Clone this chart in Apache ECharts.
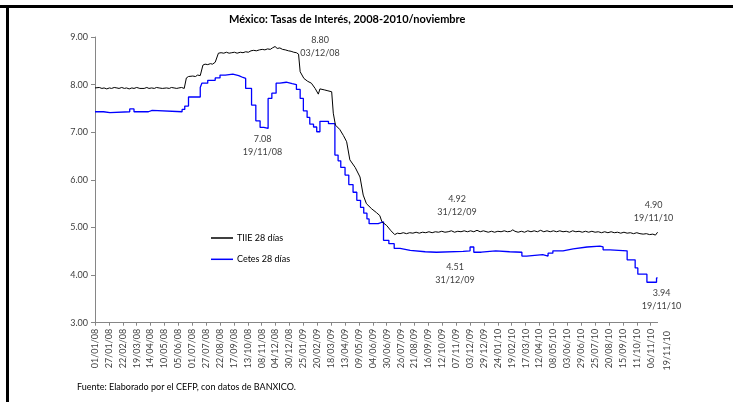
<!DOCTYPE html>
<html>
<head>
<meta charset="utf-8">
<script src="https://cdn.jsdelivr.net/npm/echarts@6/dist/echarts.min.js"></script>
<style>
  html, body { margin: 0; padding: 0; background: #fff; }
  #chart { width: 733px; height: 402px; }
</style>
</head>
<body>
<div id="chart"></div>
<script>
// tick labels on the date axis (every 26 days)
var tickLabels = ["01/01/08", "27/01/08", "22/02/08", "19/03/08", "14/04/08", "10/05/08", "05/06/08",
  "01/07/08", "27/07/08", "22/08/08", "17/09/08", "13/10/08", "08/11/08", "04/12/08", "30/12/08",
  "25/01/09", "20/02/09", "18/03/09", "13/04/09", "09/05/09", "04/06/09", "30/06/09", "26/07/09",
  "21/08/09", "16/09/09", "12/10/09", "07/11/09", "03/12/09", "29/12/09", "24/01/10", "19/02/10",
  "17/03/10", "12/04/10", "08/05/10", "03/06/10", "29/06/10", "25/07/10", "20/08/10", "15/09/10",
  "11/10/10", "06/11/10"];
var lastLabel = "19/11/10";

// TIIE 28 dias  [date, rate]
var tiieData = [
  ["01/01/08", 7.93], ["04/01/08", 7.92], ["09/01/08", 7.94], ["14/01/08", 7.92], ["18/01/08", 7.93],
  ["23/01/08", 7.91], ["28/01/08", 7.93], ["01/02/08", 7.92], ["06/02/08", 7.94], ["11/02/08", 7.93],
  ["15/02/08", 7.92], ["20/02/08", 7.94], ["25/02/08", 7.92], ["29/02/08", 7.93], ["05/03/08", 7.91],
  ["10/03/08", 7.93], ["14/03/08", 7.92], ["19/03/08", 7.94], ["25/03/08", 7.92], ["28/03/08", 7.93],
  ["02/04/08", 7.92], ["07/04/08", 7.94], ["11/04/08", 7.92], ["16/04/08", 7.93], ["21/04/08", 7.92],
  ["25/04/08", 7.94], ["30/04/08", 7.93], ["06/05/08", 7.92], ["09/05/08", 7.94], ["14/05/08", 7.93],
  ["19/05/08", 7.92], ["23/05/08", 7.94], ["28/05/08", 7.93], ["02/06/08", 7.92], ["06/06/08", 7.93],
  ["11/06/08", 7.94], ["16/06/08", 7.92], ["19/06/08", 7.93],
  ["20/06/08", 8.14], ["24/06/08", 8.17], ["27/06/08", 8.16], ["02/07/08", 8.18], ["07/07/08", 8.17],
  ["11/07/08", 8.20], ["16/07/08", 8.19], ["18/07/08", 8.22], ["21/07/08", 8.41], ["25/07/08", 8.43],
  ["30/07/08", 8.42], ["04/08/08", 8.44], ["08/08/08", 8.43], ["13/08/08", 8.47], ["15/08/08", 8.48],
  ["19/08/08", 8.66], ["24/08/08", 8.67], ["29/08/08", 8.66], ["03/09/08", 8.68], ["08/09/08", 8.66],
  ["13/09/08", 8.67], ["18/09/08", 8.68], ["23/09/08", 8.66], ["29/09/08", 8.68], ["04/10/08", 8.67],
  ["09/10/08", 8.69], ["14/10/08", 8.68], ["19/10/08", 8.71], ["24/10/08", 8.72], ["29/10/08", 8.71],
  ["04/11/08", 8.73], ["09/11/08", 8.74], ["14/11/08", 8.73], ["19/11/08", 8.75], ["24/11/08", 8.74],
  ["28/11/08", 8.77], ["03/12/08", 8.80], ["07/12/08", 8.76], ["12/12/08", 8.77], ["17/12/08", 8.74],
  ["22/12/08", 8.73], ["28/12/08", 8.71], ["02/01/09", 8.70], ["07/01/09", 8.68], ["12/01/09", 8.67],
  ["16/01/09", 8.64], ["19/01/09", 8.27], ["26/01/09", 8.13], ["02/02/09", 8.07], ["09/02/09", 8.03],
  ["16/02/09", 7.92], ["22/02/09", 7.80], ["25/02/09", 7.91], ["05/03/09", 7.89], ["12/03/09", 7.87],
  ["19/03/09", 7.85], ["22/03/09", 7.40], ["26/03/09", 7.15], ["03/04/09", 7.06], ["10/04/09", 6.93],
  ["16/04/09", 6.80], ["22/04/09", 6.42], ["02/05/09", 6.26], ["11/05/09", 6.06], ["17/05/09", 5.68],
  ["23/05/09", 5.50], ["02/06/09", 5.39], ["11/06/09", 5.31], ["17/06/09", 5.25], ["21/06/09", 5.12],
  ["30/06/09", 5.04], ["08/07/09", 4.93], ["15/07/09", 4.85], ["20/07/09", 4.88], ["25/07/09", 4.87],
  ["31/07/09", 4.89], ["06/08/09", 4.87], ["12/08/09", 4.89], ["18/08/09", 4.88], ["24/08/09", 4.90],
  ["30/08/09", 4.88], ["05/09/09", 4.90], ["11/09/09", 4.89], ["17/09/09", 4.91], ["23/09/09", 4.89],
  ["29/09/09", 4.91], ["05/10/09", 4.90], ["11/10/09", 4.92], ["17/10/09", 4.90], ["23/10/09", 4.91],
  ["29/10/09", 4.93], ["04/11/09", 4.90], ["10/11/09", 4.92], ["16/11/09", 4.91], ["22/11/09", 4.93],
  ["28/11/09", 4.91], ["04/12/09", 4.93], ["10/12/09", 4.91], ["16/12/09", 4.94], ["22/12/09", 4.91],
  ["28/12/09", 4.93], ["31/12/09", 4.92], ["06/01/10", 4.90], ["12/01/10", 4.92], ["18/01/10", 4.90],
  ["24/01/10", 4.92], ["30/01/10", 4.91], ["05/02/10", 4.93], ["11/02/10", 4.91], ["17/02/10", 4.92],
  ["21/02/10", 4.95], ["25/02/10", 4.92], ["03/03/10", 4.90], ["09/03/10", 4.92], ["15/03/10", 4.90],
  ["21/03/10", 4.93], ["27/03/10", 4.91], ["02/04/10", 4.93], ["08/04/10", 4.91], ["14/04/10", 4.94],
  ["20/04/10", 4.91], ["26/04/10", 4.93], ["02/05/10", 4.91], ["08/05/10", 4.93], ["14/05/10", 4.91],
  ["20/05/10", 4.93], ["26/05/10", 4.91], ["01/06/10", 4.92], ["07/06/10", 4.90], ["13/06/10", 4.93],
  ["19/06/10", 4.91], ["25/06/10", 4.92], ["01/07/10", 4.90], ["07/07/10", 4.92], ["13/07/10", 4.90],
  ["19/07/10", 4.92], ["25/07/10", 4.90], ["31/07/10", 4.91], ["06/08/10", 4.89], ["12/08/10", 4.91],
  ["18/08/10", 4.89], ["24/08/10", 4.91], ["30/08/10", 4.89], ["05/09/10", 4.90], ["11/09/10", 4.88],
  ["17/09/10", 4.90], ["23/09/10", 4.88], ["29/09/10", 4.89], ["05/10/10", 4.87], ["11/10/10", 4.89],
  ["17/10/10", 4.87], ["23/10/10", 4.86], ["29/10/10", 4.87], ["04/11/10", 4.85], ["10/11/10", 4.86],
  ["15/11/10", 4.84], ["17/11/10", 4.86], ["19/11/10", 4.90]
];

// Cetes 28 dias (weekly auction, drawn as steps)
var cetesDates = ["01/01/08", "17/01/08", "29/01/08", "06/03/08", "14/03/08", "10/04/08", "17/04/08",
  "12/06/08", "17/06/08", "24/06/08", "16/07/08", "19/07/08", "30/07/08", "13/08/08", "22/08/08",
  "01/09/08", "15/09/08", "26/09/08", "04/10/08", "09/10/08", "20/10/08", "28/10/08", "05/11/08",
  "12/11/08", "20/11/08", "27/11/08", "05/12/08", "12/12/08", "24/12/08", "04/01/09", "12/01/09",
  "19/01/09", "25/01/09", "01/02/09", "06/02/09", "13/02/09", "19/02/09", "25/02/09", "13/03/09",
  "25/03/09", "31/03/09", "05/04/09", "13/04/09", "20/04/09", "28/04/09", "05/05/09", "12/05/09",
  "18/05/09", "24/05/09", "28/05/09", "14/06/09", "24/06/09", "04/07/09", "14/07/09", "25/07/09",
  "13/08/09", "10/09/09", "01/10/09", "20/11/09", "03/12/09", "10/12/09", "24/12/09", "20/01/10",
  "15/02/10", "10/03/10", "19/03/10", "18/04/10", "28/04/10", "07/05/10", "26/05/10", "14/06/10",
  "10/07/10", "03/08/10", "09/08/10", "22/08/10", "23/09/10", "08/10/10", "13/10/10", "30/10/10",
  "17/11/10", "19/11/10"];
var cetesValues = [7.43, 7.41, 7.43, 7.49, 7.43, 7.46, 7.43,
  7.48, 7.55, 7.74, 7.94, 8.03, 8.09, 8.14, 8.20,
  8.22, 8.19, 8.15, 8.13, 7.92, 7.57, 7.24, 7.10,
  7.08, 7.71, 7.82, 8.03, 8.05, 8.02, 8.00, 7.90,
  7.71, 7.45, 7.31, 7.17, 7.11, 7.01, 7.23, 7.18,
  6.52, 6.40, 6.26, 6.10, 5.90, 5.74, 5.57, 5.42,
  5.30, 5.18, 5.08, 5.12, 4.73, 4.66, 4.56, 4.52,
  4.49, 4.48, 4.50, 4.51, 4.59, 4.48, 4.51, 4.49,
  4.48, 4.40, 4.43, 4.40, 4.46, 4.51, 4.55, 4.59,
  4.61, 4.59, 4.53, 4.51, 4.32, 4.15, 4.02, 3.85,
  3.94, 3.94];

// annotated values [date, value]
var tiieNotes = [["03/12/08", 8.80], ["31/12/09", 4.92], ["19/11/10", 4.90]];
var cetesNotes = [["19/11/08", 7.08], ["31/12/09", 4.51], ["19/11/10", 3.94]];

var FONT = "Lato";

function toTime(s) {
  var p = s.split("/");
  return Date.UTC(2000 + Number(p[2]), Number(p[1]) - 1, Number(p[0]));
}

var tickTimes = tickLabels.map(toTime);
var labelByTime = {};
tickLabels.forEach(function (l) {
  labelByTime[toTime(l)] = l;
});

var noteOffsets = {
  tiie: [[45, 0], [-28, -26], [-4, -21]],
  cetes: [[-5, 17], [-30, 23], [4, 22]],
};

function notePoints(notes, offsets) {
  return notes.map(function (n, i) {
    return {
      coord: [toTime(n[0]), n[1]],
      value: n[1].toFixed(2) + "\n" + n[0],
      label: { offset: offsets[i] },
    };
  });
}

var markStyle = {
  symbol: "circle",
  symbolSize: 1,
  silent: true,
  itemStyle: { color: "rgba(0,0,0,0)" },
  label: {
    show: true,
    position: "inside",
    fontFamily: FONT,
    fontSize: 9,
    lineHeight: 13,
    color: "#404040",
    align: "center",
    formatter: "{c}",
  },
};

var chart = echarts.init(document.getElementById("chart"));

var option = {
  animation: false,
  backgroundColor: "#fff",
  title: {
    text: "México: Tasas de Interés, 2008-2010/noviembre",
    left: 229,
    top: 14,
    padding: 0,
    textStyle: {
      fontFamily: FONT,
      fontSize: 11,
      fontWeight: "bold",
      color: "#000",
    },
  },
  legend: {
    orient: "vertical",
    left: 206,
    top: 227,
    itemWidth: 22,
    itemHeight: 1.5,
    itemGap: 9.3,
    icon: "rect",
    textStyle: {
      fontFamily: FONT,
      fontSize: 9,
      lineHeight: 12,
      color: "#000",
      padding: [0, 0, 0, -1],
    },
    data: ["TIIE 28 días", "Cetes 28 días"],
  },
  grid: {
    left: 95,
    right: 75.4,
    top: 37,
    bottom: 79.3,
  },
  xAxis: {
    type: "value",
    min: toTime("01/01/08"),
    max: toTime(lastLabel),
    interval: 26 * 86400000,
    splitLine: { show: false },
    axisLine: { show: true, onZero: false, lineStyle: { color: "#868686", width: 1 } },
    axisTick: {
      show: true,
      length: 3,
      customValues: tickTimes,
      lineStyle: { color: "#868686" },
    },
    axisLabel: {
      rotate: 90,
      margin: 6,
      fontFamily: FONT,
      fontSize: 9,
      color: "#404040",
      customValues: tickTimes,
      formatter: function (v) {
        return labelByTime[v] || "";
      },
    },
  },
  yAxis: {
    type: "value",
    min: 3,
    max: 9,
    interval: 1,
    splitLine: { show: false },
    axisLine: { show: true, lineStyle: { color: "#868686", width: 1 } },
    axisTick: { show: true, length: 4, lineStyle: { color: "#868686" } },
    axisLabel: {
      margin: 7,
      fontFamily: FONT,
      fontSize: 9,
      color: "#404040",
      formatter: function (v) {
        return v.toFixed(2);
      },
    },
  },
  series: [
    {
      name: "TIIE 28 días",
      type: "line",
      showSymbol: false,
      symbol: "none",
      color: "#000000",
      lineStyle: { color: "#000000", width: 1 },
      data: tiieData.map(function (d) {
        return [toTime(d[0]), d[1]];
      }),
      markPoint: Object.assign({}, markStyle, {
        data: notePoints(tiieNotes, noteOffsets.tiie),
      }),
      z: 3,
    },
    {
      name: "Cetes 28 días",
      type: "line",
      step: "end",
      showSymbol: false,
      symbol: "none",
      color: "#0000ff",
      lineStyle: { color: "#0000ff", width: 1.3 },
      data: cetesDates.map(function (d, i) {
        return [toTime(d), cetesValues[i]];
      }),
      markPoint: Object.assign({}, markStyle, {
        data: notePoints(cetesNotes, noteOffsets.cetes),
      }),
      z: 2,
    },
  ],
  graphic: [
    // frame around the figure
    { type: "line", shape: { x1: 0, y1: 6.5, x2: 733, y2: 6.5 }, style: { stroke: "#000", lineWidth: 3 } },
    { type: "line", shape: { x1: 7.5, y1: 5, x2: 7.5, y2: 402 }, style: { stroke: "#000", lineWidth: 3 } },
    {
      type: "text",
      x: 667,
      y: 331,
      rotation: Math.PI / 2,
      style: {
        text: lastLabel,
        fontFamily: FONT,
        fontSize: 9,
        fill: "#404040",
        align: "right",
        verticalAlign: "middle",
      },
    },
    {
      type: "text",
      x: 77,
      y: 387,
      style: {
        text: "Fuente: Elaborado por el CEFP, con datos de BANXICO.",
        fontFamily: FONT,
        fontSize: 9,
        fill: "#000",
        verticalAlign: "middle",
      },
    },
  ],
};

chart.setOption(option);
</script>
</body>
</html>
